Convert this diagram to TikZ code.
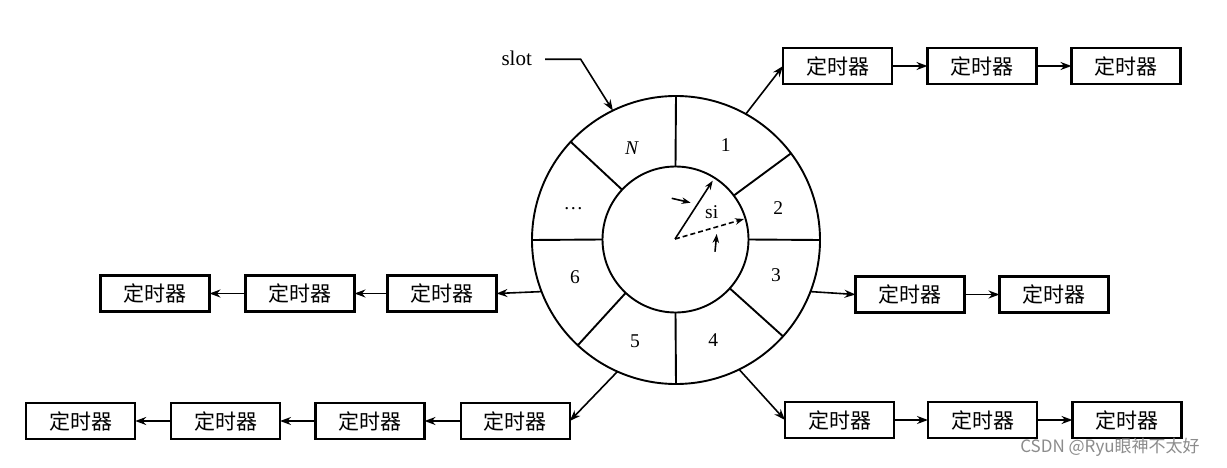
\documentclass[tikz,border=0pt]{standalone}
\usepackage{fontspec}
\setmainfont{Liberation Serif}
\newfontfamily\cjk{Noto Sans CJK SC}
\usetikzlibrary{arrows.meta,calc}
\begin{document}
\begin{tikzpicture}[x=1pt,y=-1pt,
  line width=1.9pt,
  tbox/.style={draw, line width=2.1pt, minimum width=109pt, minimum height=36pt, inner sep=0pt, outer sep=0pt, font=\cjk\fontsize{21}{24}\selectfont},
  ring/.style={draw, circle, inner sep=0pt, outer sep=0pt},
  arr/.style={-{Stealth[length=11pt,width=8pt]}, line width=1.6pt},
  sarr/.style={-{Stealth[length=9pt,width=6.5pt]}, line width=1.6pt},
  lab/.style={font=\fontsize{19.5}{22}\selectfont, inner sep=0pt},
]
\useasboundingbox[fill=white] (0,0) rectangle (1227,468);

% ring
\node[ring, minimum size=288pt] (outer) at (676,240) {};
\node[ring, minimum size=146pt] (inner) at (675.5,239.5) {};
\foreach \a in {90,37,0,318,270,227,180,137}
  \draw (inner.\a) -- (outer.\a);

% slot labels
\node[lab] (lN) at (631.7,148.3) {\itshape N};
\node[lab] (l1) at (725.7,145) {1};
\node[lab] (l2) at (778.3,208) {2};
\node[lab] (l3) at (776,275) {3};
\node[lab] (l4) at (713.3,340) {4};
\node[lab] (l5) at (635,341) {5};
\node[lab] (l6) at (575,276.7) {6};
\node[lab] (ldots) at (573.3,209) {\dots};

% pointer inside
\coordinate (c) at (675,239);
\coordinate (p1) at (712.7,180.7);
\coordinate (p2) at (744,219);
\draw[sarr] (c) -- (p1);
\draw[sarr, dash pattern=on 5pt off 3pt] (c) -- (p2);
\coordinate (a1s) at (671.7,198.3);
\coordinate (a1e) at (690.7,202.7);
\coordinate (a2s) at (715,251.7);
\coordinate (a2e) at (716.7,234);
\draw[sarr] (a1s) -- (a1e);
\draw[sarr] (a2s) -- (a2e);
\node[lab] (si) at (711.7,212) {si};

% slot pointer
\node[lab, font=\fontsize{21}{24}\selectfont] (slot) at (516.7,58) {slot};
\coordinate (s0) at (545,59.3);
\coordinate (s1) at (580.7,59.3);
\draw[arr] (s0) -- (s1) -- (outer.116.4);

% top row
\node[tbox] (T1) at (837.5,66) {定时器};
\node[tbox] (T2) at (982,66) {定时器};
\node[tbox] (T3) at (1126,66) {定时器};
\draw[arr] (outer.61) -- (T1.west);
\draw[arr] (T1) -- (T2);
\draw[arr] (T2) -- (T3);

% right middle row
\node[tbox] (R1) at (910,294.5) {定时器};
\node[tbox] (R2) at (1054,294.5) {定时器};
\draw[arr] (outer.-21.3) -- (R1.west);
\draw[arr] (R1) -- (R2);

% bottom right row
\node[tbox] (B1) at (839.5,420) {定时器};
\node[tbox] (B2) at (982.5,420) {定时器};
\node[tbox] (B3) at (1127,420) {定时器};
\draw[arr] (outer.-64.8) -- (B1.west);
\draw[arr] (B1) -- (B2);
\draw[arr] (B2) -- (B3);

% left middle row
\node[tbox] (L1) at (155,293.5) {定时器};
\node[tbox] (L2) at (300,293.5) {定时器};
\node[tbox] (L3) at (442,293.5) {定时器};
\draw[arr] (outer.201.3) -- (L3.east);
\draw[arr] (L3) -- (L2);
\draw[arr] (L2) -- (L1);

% bottom left row
\node[tbox] (D1) at (80.7,421) {定时器};
\node[tbox] (D2) at (225.5,421) {定时器};
\node[tbox] (D3) at (370,421) {定时器};
\node[tbox] (D4) at (515.3,421) {定时器};
\draw[arr] (outer.246.6) -- (D4.east);
\draw[arr] (D4) -- (D3);
\draw[arr] (D3) -- (D2);
\draw[arr] (D2) -- (D1);

% watermark
\node[font=\cjk\fontsize{17}{20}\selectfont, text=black!45, inner sep=0pt] (wm) at (1110,447) {CSDN @Ryu眼神不太好};
\end{tikzpicture}
\end{document}
